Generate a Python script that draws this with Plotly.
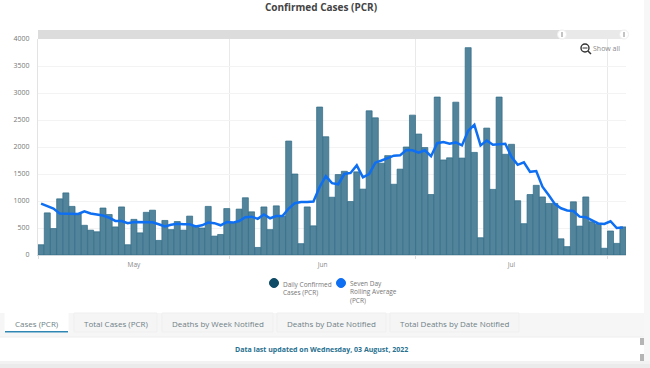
import pandas as pd
import plotly.graph_objects as go

start_date = "2022-05-01"
daily_cases = [190,780,490,1040,1150,900,760,550,460,430,870,750,520,890,190,660,410,790,830,270,
               640,470,620,460,720,530,500,900,350,380,860,600,850,1060,800,140,890,470,910,720,
               2110,1500,210,890,540,2740,2190,1070,1490,1550,990,1540,1220,2670,2540,1700,1840,1310,1590,2000,
               2590,2240,1990,1120,2925,1760,1800,2830,1795,3840,1900,320,2350,1215,2925,1865,2050,1005,580,1120,
               1290,1075,955,955,300,155,985,535,1075,615,565,125,445,215,520]
rolling_avg = [950,900,860,770,770,770,760,810,770,750,730,690,630,630,590,610,610,600,605,570,
               530,560,580,570,570,530,550,600,590,550,610,600,630,700,710,670,750,680,720,720,
               860,960,980,980,990,1260,1460,1330,1310,1500,1520,1660,1440,1500,1710,1750,1800,1840,1845,1945,
               1940,1895,1940,1830,2070,2090,2060,2085,2030,2300,2410,2030,2120,2040,2050,2060,1820,1670,1715,1540,
               1555,1265,1110,945,865,825,815,710,700,650,585,575,625,500,510]
dates = pd.date_range(start_date, periods=len(daily_cases), freq="D")
y_ticks = [0,500,1000,1500,2000,2500,3000,3500,4000]
tabs = ["Cases (PCR)","Total Cases (PCR)","Deaths by Week Notified","Deaths by Date Notified","Total Deaths by Date Notified"]
tab_edges = [(5,68),(74,157),(162,273),(277,386),(390,519)]

W, H = 650, 368
L, R, T, B = 38, 626, 39, 255
px = lambda v: (v - L) / (R - L)
py = lambda v: 1 - (v - T) / (B - T)

fig = go.Figure()
fig.add_bar(x=dates, y=daily_cases, name="Daily Confirmed Cases (PCR)", xperiod=86400000, xperiodalignment="middle",
            marker=dict(color="#52849b", line=dict(color="#2f6a85", width=0.7)))
fig.add_scatter(x=dates, y=rolling_avg, name="Seven Day Rolling Average (PCR)", mode="lines", xperiod=86400000,
                xperiodalignment="middle", line=dict(color="#0f6ff2", width=2.5))

shapes, ann = [], []
def rect(x0, y0, x1, y1, fill, line=None, layer="below"):
    shapes.append(dict(type="rect", xref="paper", yref="paper", x0=px(x0), x1=px(x1), y0=py(y1), y1=py(y0),
                       fillcolor=fill, line=dict(color=line or fill, width=1 if line else 0), layer=layer))
def circ(cx, cy, r, fill, line=None, width=1):
    shapes.append(dict(type="circle", xref="paper", yref="paper", x0=px(cx-r), x1=px(cx+r), y0=py(cy+r), y1=py(cy-r),
                       fillcolor=fill, line=dict(color=line or fill, width=width), layer="above"))
def seg(x0, y0, x1, y1, color, width):
    shapes.append(dict(type="line", xref="paper", yref="paper", x0=px(x0), x1=px(x1), y0=py(y0), y1=py(y1),
                       line=dict(color=color, width=width), layer="above"))
def text(x, y, s, size=9, color="#777777", anchor="center"):
    ann.append(dict(xref="paper", yref="paper", x=px(x), y=py(y), text=s, showarrow=False, xanchor=anchor, yanchor="middle",
                    align="left" if anchor == "left" else "center", font=dict(size=size, color=color)))

# range slider strip
rect(L, 30, 625, 39, "#dcdcdc", layer="above")
rect(562, 30, 625, 39, "#e9e9e9", layer="above")
circ(562, 34.5, 4.5, "#ffffff", "#eeeeee")
circ(624, 34.5, 4.5, "#ffffff", "#eeeeee")
rect(561, 32, 563, 37, "#c4c4c4", layer="above")
rect(623, 32, 625, 37, "#c4c4c4", layer="above")
# show all control
circ(585, 48, 4, "#ffffff", "#333333", 1.4)
seg(582.5, 48, 587.5, 48, "#333333", 1)
seg(588, 51, 591, 54, "#333333", 1.5)
text(606, 48.5, "Show all", size=7, color="#8a8a8a")
# legend
circ(274, 283, 4.5, "#0f4a66")
text(281, 288, "Daily Confirmed<br>Cases (PCR)", size=6.5, anchor="left")
circ(341, 283, 4.5, "#0f6ff2")
text(348, 292, "Seven Day<br>Rolling Average<br>(PCR)", size=6.5, anchor="left")
# page furniture around the chart
rect(644, 0, 650, 368, "#f7f7f7")
rect(0, 313, 644, 337, "#f6f6f6")
rect(0, 337, 644, 361, "#ffffff")
rect(0, 361, 650, 364, "#f2f2f2")
rect(0, 364, 650, 368, "#ebebeb")
seg(0, 337, 644, 337, "#eeeeee", 1)
for i, (name, (a, b)) in enumerate(zip(tabs, tab_edges)):
    rect(a, 313, b, 332, "#f5f5f5" if i else "#ffffff", "#efefef" if i else "#ffffff")
    text((a+b)/2, 323, name, size=8, color="#6f7f86")
rect(5, 331, 68, 332.5, "#2f86b3", layer="above")
text(321, 349.5, "<b>Data last updated on Wednesday, 03 August, 2022</b>", size=7, color="#27708f")
rect(640, 338, 644, 345, "#b5b5b5")
rect(640, 354, 644, 361, "#b5b5b5")

fig.update_layout(
    width=W, height=H, margin=dict(l=L, r=W-R, t=T, b=H-B), showlegend=False, bargap=0.03,
    paper_bgcolor="#ffffff", plot_bgcolor="#ffffff",
    font=dict(family="Open Sans, sans-serif", color="#777777", size=8),
    title=dict(text="<b>Confirmed Cases (PCR)</b>", x=321/W, xanchor="center", y=1-7/H, yanchor="middle",
               font=dict(size=10, color="#444444")),
    shapes=shapes, annotations=ann,
    xaxis=dict(type="date", range=[dates[0], dates[-1] + pd.Timedelta(days=1)], dtick="M1", tick0=start_date,
               ticklabelmode="period", tickformat="%b", showgrid=True, gridcolor="#e9e9e9", gridwidth=1,
               ticks="outside", ticklen=3, tickcolor="#dddddd", showline=True, linecolor="#cfd8dc",
               tickfont=dict(size=6.5, color="#888888"), zeroline=False),
    yaxis=dict(range=[0, 4000], tickvals=y_ticks, showgrid=True, gridcolor="#f3f3f3", ticks="outside", ticklen=6,
               tickcolor="rgba(0,0,0,0)", zeroline=False,
               showline=True, linecolor="#e3e3e3", tickfont=dict(size=7, color="#777777")),
)
fig.write_html("out.html", config=dict(displayModeBar=False), post_script="document.body.style.margin='0';")
